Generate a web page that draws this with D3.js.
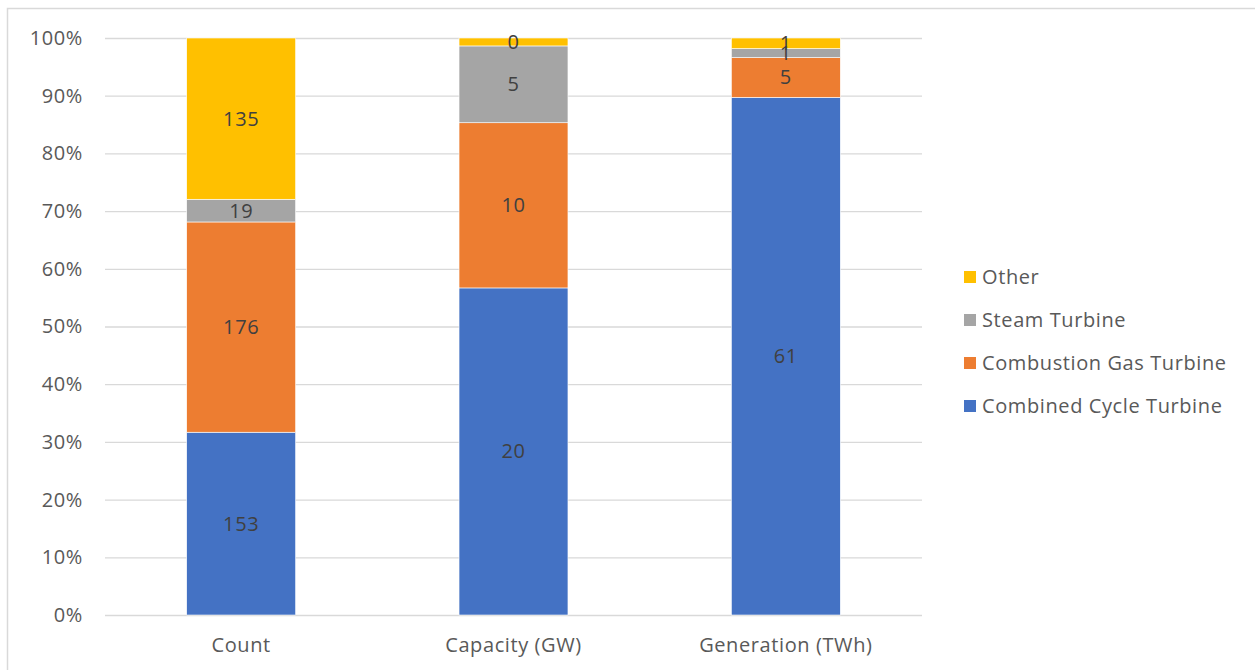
<!DOCTYPE html>
<html>
<head>
<meta charset="utf-8">
<script src="https://cdn.jsdelivr.net/npm/d3@7"></script>
<style>
  html, body { margin: 0; padding: 0; background: #fff; }
  svg { display: block; font-family: "Open Sans", "Noto Sans", sans-serif; }
  .lbl { font-size: 20px; letter-spacing: 0.6px; }
</style>
</head>
<body>
<svg id="chart" width="1255" height="670"></svg>
<script>
// Categories along the x axis
const categories = ["Count", "Capacity (GW)", "Generation (TWh)"];

// Series, bottom to top of each stacked bar
const seriesNames = ["Combined Cycle Turbine", "Combustion Gas Turbine", "Steam Turbine", "Other"];
const combinedCycle = [153, 19.8, 61.0];
const combustionGas = [176, 10.0, 4.7];
const steamTurbine  = [19, 4.65, 1.05];
const other         = [135, 0.48, 1.25];

const seriesColors = ["#4472C4", "#ED7D31", "#A5A5A5", "#FFC000"];

// Y axis tick values (share of the total)
const yTicks = [0, 0.1, 0.2, 0.3, 0.4, 0.5, 0.6, 0.7, 0.8, 0.9, 1.0];

const svg = d3.select("#chart");
const W = 1255, H = 670;

// Outer chart frame
svg.append("rect")
  .attr("x", 7.5).attr("y", 8.5)
  .attr("width", W + 20).attr("height", H + 20)
  .attr("fill", "none").attr("stroke", "#d9d9d9").attr("stroke-width", 1.5);

const plot = { left: 105, right: 922, top: 38, bottom: 615 };

const x = d3.scaleBand()
  .domain(categories)
  .range([plot.left, plot.right])
  .paddingInner(0.6)
  .paddingOuter(0.3);

const y = d3.scaleLinear().domain([0, 1]).range([plot.bottom, plot.top]);

// Gridlines
svg.append("g")
  .selectAll("line")
  .data(yTicks)
  .join("line")
  .attr("x1", plot.left).attr("x2", plot.right)
  .attr("y1", d => y(d) + 0.5).attr("y2", d => y(d) + 0.5)
  .attr("stroke", "#d9d9d9").attr("stroke-width", 1.3);

// Y axis labels
const yAxis = d3.axisLeft(y).tickValues(yTicks).tickFormat(d3.format(".0%")).tickSize(0).tickPadding(0);
const yg = svg.append("g").attr("transform", `translate(${plot.left - 22},0)`).call(yAxis);
yg.select(".domain").remove();
yg.selectAll("text")
  .attr("class", "lbl")
  .attr("fill", "#595959")
  .style("font-family", "'Open Sans', sans-serif");

// X axis labels
const xAxis = d3.axisBottom(x).tickSize(0).tickPadding(0);
const xg = svg.append("g").attr("transform", `translate(0,${plot.bottom + 23})`).call(xAxis);
xg.select(".domain").remove();
xg.selectAll("text")
  .attr("class", "lbl")
  .attr("fill", "#595959")
  .style("font-family", "'Open Sans', sans-serif");

// Build rows for stacking, normalised to 100%
const seriesArrays = [combinedCycle, combustionGas, steamTurbine, other];
const rows = categories.map((c, i) => {
  const row = { category: c };
  seriesNames.forEach((s, k) => row[s] = seriesArrays[k][i]);
  return row;
});

const stack = d3.stack().keys(seriesNames).offset(d3.stackOffsetExpand);
const stacked = stack(rows);

const layers = svg.append("g")
  .selectAll("g")
  .data(stacked)
  .join("g")
  .attr("fill", (d, i) => seriesColors[i]);

layers.selectAll("rect")
  .data(d => d)
  .join("rect")
  .attr("x", d => x(d.data.category))
  .attr("width", x.bandwidth())
  .attr("y", d => y(d[1]))
  .attr("height", d => y(d[0]) - y(d[1]))
  .attr("stroke", "#fff")
  .attr("stroke-width", 0.6);

// Value labels centred in each segment
const fmt = d3.format(".0f");
svg.append("g")
  .selectAll("g")
  .data(stacked)
  .join("g")
  .selectAll("text")
  .data(d => d.map(v => ({ v, key: d.key })))
  .join("text")
  .attr("class", "lbl")
  .attr("x", d => x(d.v.data.category) + x.bandwidth() / 2)
  .attr("y", d => (y(d.v[0]) + y(d.v[1])) / 2)
  .attr("dy", "0.35em")
  .attr("text-anchor", "middle")
  .attr("fill", "#404040")
  .text(d => fmt(d.v.data[d.key]));

// Legend, listed top to bottom in reverse stacking order
const legendItems = seriesNames.map((s, i) => ({ name: s, color: seriesColors[i] })).reverse();
const legend = svg.append("g")
  .selectAll("g")
  .data(legendItems)
  .join("g")
  .attr("transform", (d, i) => `translate(964,${277 + i * 43})`);

legend.append("rect")
  .attr("x", 0).attr("y", -6)
  .attr("width", 12).attr("height", 12)
  .attr("fill", d => d.color);

legend.append("text")
  .attr("class", "lbl")
  .attr("x", 18).attr("y", 0)
  .attr("dy", "0.35em")
  .attr("fill", "#595959")
  .text(d => d.name);
</script>
</body>
</html>
